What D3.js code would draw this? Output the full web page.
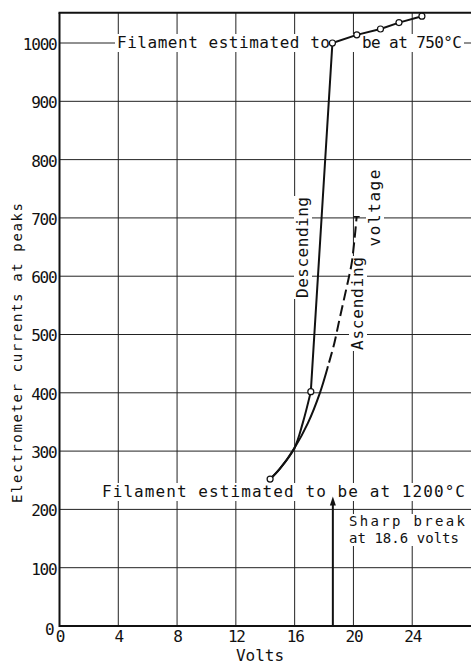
<!DOCTYPE html>
<html>
<head>
<meta charset="utf-8">
<script src="https://cdn.jsdelivr.net/npm/d3@7"></script>
<style>
  body { margin: 0; background: #fff; }
  svg { display: block; }
</style>
</head>
<body>
<svg id="chart" width="471" height="664"></svg>
<script>
// readings taken off the plate: volts vs electrometer current at peaks
const descLowVolts  = [14.33, 15.0, 15.98, 16.55, 17.1];
const descLowAmps   = [252, 270, 305, 348, 402];
const descHighVolts = [17.1, 18.57, 20.23, 21.84, 23.1, 24.66];
const descHighAmps  = [402, 1000, 1014, 1024, 1035, 1046];
const ascVolts      = [14.33, 15.0, 15.98, 16.9, 17.72, 18.33, 18.7, 19.0, 19.3, 19.6, 19.88, 20.06, 20.22];
const ascAmps       = [252, 270, 305, 348, 400, 451, 485, 520, 554, 588, 622, 660, 702];
const ascDashFrom   = 445;   // current where the ascending run turns dashed
const markerVolts   = [14.33, 17.1, 18.57, 20.23, 21.84, 23.1, 24.66];
const markerAmps    = [252, 402, 1000, 1014, 1024, 1035, 1046];

const xTicks = [0, 4, 8, 12, 16, 20, 24];
const yTicks = [0, 100, 200, 300, 400, 500, 600, 700, 800, 900, 1000];
const breakVolts = 18.6;
const breakArrowTop = 222;

const FONT = "'DejaVu Sans Mono', monospace";
const INK = "#111";

const svg = d3.select("#chart");
const x = d3.scaleLinear().domain([0, 28]).range([59.5, 471]);
const y = d3.scaleLinear().domain([0, 1052]).range([626, 12.7]);

svg.append("rect").attr("width", 471).attr("height", 664).attr("fill", "#fff");

// ── Grid ─────────────────────────────────────────────────────────
const grid = svg.append("g").attr("stroke", "#222").attr("stroke-width", 1);
xTicks.filter(v => v > 0).forEach(v => {
    grid.append("line")
        .attr("x1", x(v)).attr("x2", x(v))
        .attr("y1", y(0)).attr("y2", y(1052));
});
yTicks.filter(v => v > 0).forEach(v => {
    grid.append("line")
        .attr("x1", x(0)).attr("x2", x(28))
        .attr("y1", y(v)).attr("y2", y(v));
});

// frame: left, bottom, top
const frame = svg.append("g").attr("stroke", INK).attr("stroke-width", 2);
frame.append("line").attr("x1", x(0)).attr("x2", x(0)).attr("y1", y(0) + 1).attr("y2", y(1052));
frame.append("line").attr("x1", x(0)).attr("x2", x(28)).attr("y1", y(0)).attr("y2", y(0));
frame.append("line").attr("x1", x(0) - 1).attr("x2", x(28)).attr("y1", y(1052)).attr("y2", y(1052));

// ── Axes labels ──────────────────────────────────────────────────
const xAxis = svg.append("g")
    .attr("transform", `translate(0,${y(0)})`)
    .call(d3.axisBottom(x).tickValues(xTicks).tickSize(0).tickPadding(5).tickFormat(d3.format("d")));
const yAxis = svg.append("g")
    .attr("transform", `translate(${x(0)},0)`)
    .call(d3.axisLeft(y).tickValues(yTicks).tickSize(0).tickPadding(3).tickFormat(d3.format("d")));
[xAxis, yAxis].forEach(a => {
    a.select(".domain").remove();
    a.selectAll("text")
        .attr("font-family", FONT).attr("font-size", 16)
        .attr("letter-spacing", "-1.2px").attr("fill", INK);
});
yAxis.selectAll("text").attr("dy", "0.4em");
yAxis.selectAll("text").filter(d => d === 0).attr("x", -6).attr("dy", "0.5em");

svg.append("text")
    .attr("x", 260).attr("y", 661)
    .attr("text-anchor", "middle")
    .attr("font-family", FONT).attr("font-size", 16).attr("fill", INK)
    .text("Volts");

svg.append("text")
    .attr("transform", "translate(22,353) rotate(-90)")
    .attr("text-anchor", "middle")
    .attr("font-family", FONT).attr("font-size", 14).attr("fill", INK)
    .attr("textLength", 300).attr("lengthAdjust", "spacing")
    .text("Electrometer currents at peaks");

// ── Annotations (white backed, like the hand lettering) ──────────
const bgLayer = svg.append("g");
const txtLayer = svg.append("g")
    .attr("font-family", FONT).attr("font-size", 16).attr("fill", INK);

function label(str, px, py, len, rotate, size) {
    const t = txtLayer.append("text")
        .attr("textLength", len).attr("lengthAdjust", "spacing")
        .text(str);
    if (size) t.attr("font-size", size);
    if (rotate) {
        t.attr("transform", `translate(${px},${py}) rotate(-90)`).attr("text-anchor", "middle");
    } else {
        t.attr("x", px).attr("y", py);
    }
    return t;
}

function backing(nodes, pad, rotate) {
    let x0 = Infinity, y0 = Infinity, x1 = -Infinity, y1 = -Infinity;
    nodes.forEach(n => {
        const b = n.node().getBBox();
        x0 = Math.min(x0, b.x); y0 = Math.min(y0, b.y);
        x1 = Math.max(x1, b.x + b.width); y1 = Math.max(y1, b.y + b.height);
    });
    const r = bgLayer.append("rect").attr("fill", "#fff");
    if (rotate) r.attr("transform", nodes[0].attr("transform"));  // bbox is in the rotated frame
    r.attr("x", x0 - pad).attr("y", y0 + 1)
        .attr("width", x1 - x0 + 2 * pad).attr("height", y1 - y0 - 1);
}

const top1 = label("Filament estimated to", 117, 48, 213);
const top2 = label("be at 750°C", 362, 48, 100);
backing([top1, top2], 2);

const low = label("Filament estimated to be at 1200°C", 102, 497, 363);
backing([low], 2);

const sb1 = label("Sharp break", 349, 526, 116, false, 14);
const sb2 = label("at 18.6 volts", 349, 543, 110, false, 14);
backing([sb1, sb2], 2);

const dsc = label("Descending", 308, 247.5, 101, true);
backing([dsc], 1, true);
const asc = label("Ascending", 363, 303.5, 93, true);
backing([asc], 1, true);
const vlt = label("voltage", 380, 208, 77, true);
backing([vlt], 1, true);

// ── Curves ───────────────────────────────────────────────────────
const pts = (vs, is) => vs.map((v, i) => [v, is[i]]);
const smooth = d3.line().x(d => x(d[0])).y(d => y(d[1])).curve(d3.curveCatmullRom.alpha(0.5));
const straight = d3.line().x(d => x(d[0])).y(d => y(d[1]));

const curves = svg.append("g")
    .attr("fill", "none").attr("stroke", INK).attr("stroke-width", 2)
    .attr("stroke-linejoin", "round");

curves.append("path").attr("d", smooth(pts(descLowVolts, descLowAmps)));
curves.append("path").attr("d", straight(pts(descHighVolts, descHighAmps)));

// ascending: one smooth run, solid at first then dashed above ascDashFrom
const ascPath = curves.append("path").attr("d", smooth(pts(ascVolts, ascAmps)));
const total = ascPath.node().getTotalLength();
const yCut = y(ascDashFrom);
let solidLen = 0;
for (let l = 0; l <= total; l += 0.5) {
    if (ascPath.node().getPointAtLength(l).y <= yCut) { solidLen = l; break; }
}
const dashes = [solidLen, 4];
for (let s = solidLen; s < total + 20; s += 16) dashes.push(11, 5);
ascPath.attr("stroke-dasharray", dashes.join(","));

// end tick on the dashed run
const endV = ascVolts[ascVolts.length - 1];
const endI = ascAmps[ascAmps.length - 1];
curves.append("line")
    .attr("x1", x(endV) - 3).attr("x2", x(endV) + 3)
    .attr("y1", y(endI)).attr("y2", y(endI))
    .attr("stroke-width", 1.5);

// observation circles
svg.append("g").selectAll("circle")
    .data(pts(markerVolts, markerAmps))
    .join("circle")
    .attr("cx", d => x(d[0])).attr("cy", d => y(d[1]))
    .attr("r", 3)
    .attr("fill", "#fff").attr("stroke", INK).attr("stroke-width", 1.2);

// ── Sharp-break arrow ────────────────────────────────────────────
const ax = x(breakVolts), ay = y(breakArrowTop);
svg.append("line")
    .attr("x1", ax).attr("x2", ax)
    .attr("y1", y(0)).attr("y2", ay + 5)
    .attr("stroke", INK).attr("stroke-width", 2);
svg.append("path")
    .attr("d", `M${ax},${ay} L${ax - 3},${ay + 9} L${ax + 3},${ay + 9} Z`)
    .attr("fill", INK);
</script>
</body>
</html>
